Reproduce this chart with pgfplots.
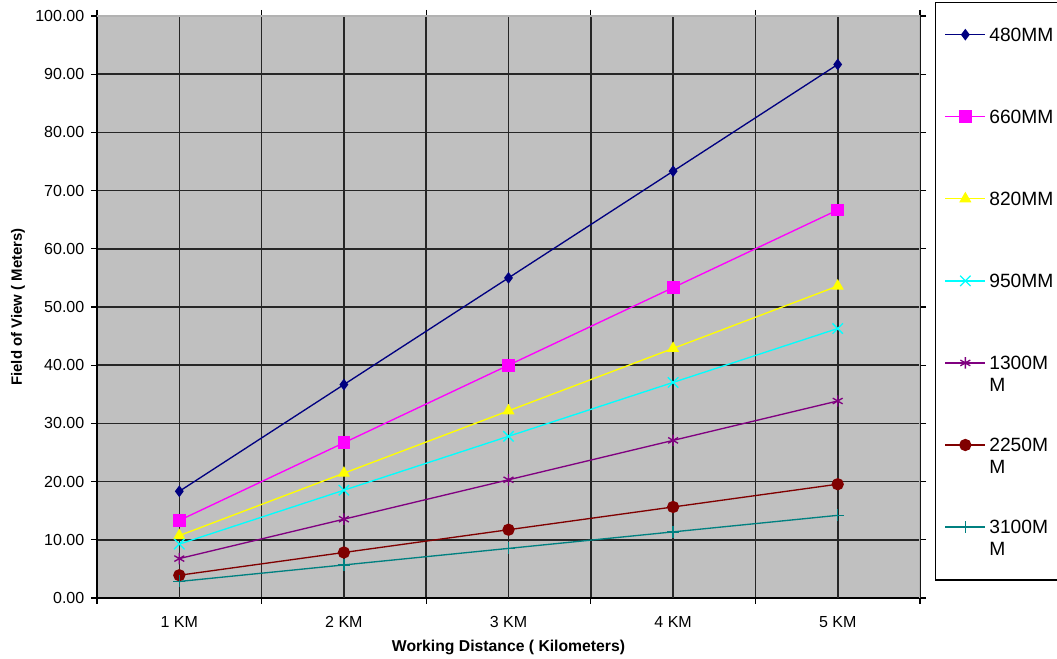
\documentclass[border=0pt]{standalone}
\usepackage{pgfplots}
\pgfplotsset{compat=1.18}
\usepackage{fontspec}
\setmainfont{Liberation Sans}

\definecolor{xnavy}{RGB}{0,0,128}
\definecolor{xmagenta}{RGB}{255,0,255}
\definecolor{xyellow}{RGB}{255,255,0}
\definecolor{xcyan}{RGB}{0,255,255}
\definecolor{xpurple}{RGB}{128,0,128}
\definecolor{xdarkred}{RGB}{128,0,0}
\definecolor{xteal}{RGB}{0,128,128}
\definecolor{plotbg}{RGB}{192,192,192}

\newcommand{\twoline}[2]{\vtop{\hbox{#1}\hbox{#2}}}

\begin{document}
\begin{tikzpicture}
\useasboundingbox (0,0) rectangle (792.75pt,494.25pt);
\begin{axis}[
  at={(72.75pt,45.75pt)}, anchor=south west,
  scale only axis, width=617.25pt, height=436.5pt,
  xmin=0.5, xmax=5.5, ymin=0, ymax=100,
  axis background/.style={fill=plotbg},
  axis line style={black, line width=1.1pt},
  tick align=outside, major tick length=4.5pt,
  tick style={black, line width=1pt},
  xtick={0.5,1.5,...,5.5}, xticklabels={},
  extra x ticks={1,2,3,4,5},
  extra x tick labels={1 KM,2 KM,3 KM,4 KM,5 KM},
  extra x tick style={major tick length=0pt, grid=major},
  xticklabel style={yshift=-10pt},
  ytick={0,10,...,100},
  grid=major,
  major grid style={black!85, line width=1.2pt},
  /pgf/number format/assume math mode=true,
  yticklabel style={/pgf/number format/fixed, /pgf/number format/fixed zerofill, /pgf/number format/precision=2, xshift=-1.5pt},
  ticklabel style={font=\fontsize{12}{14}\selectfont},
  xlabel={Working Distance ( Kilometers)},
  ylabel={Field of View ( Meters)},
  xlabel style={font=\bfseries\fontsize{11.8}{13}\selectfont, at={(axis description cs:0.5,0)}, anchor=center, yshift=-36.75pt},
  ylabel style={font=\bfseries\fontsize{11.2}{13}\selectfont, at={(axis description cs:0,0.5)}, anchor=center, yshift=59.25pt},
  every axis plot/.append style={line width=1pt},
  legend image code/.code={
    \draw[mark repeat=2,mark phase=2] plot coordinates {(0pt,5.2pt)(15pt,5.2pt)(30pt,5.2pt)};
  },
  legend style={at={(1,1)}, anchor=north west, xshift=11.25pt, yshift=10.5pt,
    draw=black, line width=1pt, fill=white, inner xsep=6.75pt, inner ysep=1.1pt,
    font=\fontsize{14.4}{16.5}\selectfont, row sep=0pt, column sep=1.5pt,
    cells={anchor=base west},
    nodes={inner xsep=1pt, inner ysep=0pt, text height=28.1pt, text depth=33.45pt}},
]
\addplot[color=xnavy, mark=diamond*, mark size=3.6pt, mark options={solid, fill=xnavy}]
  coordinates {(1,18.33) (2,36.67) (3,55.00) (4,73.33) (5,91.67)};
\addlegendentry{480MM}
\addplot[color=xmagenta, mark=square*, mark size=4.3pt, mark options={solid, fill=xmagenta}]
  coordinates {(1,13.33) (2,26.67) (3,40.00) (4,53.33) (5,66.67)};
\addlegendentry{660MM}
\addplot[color=xyellow, mark=triangle*, mark size=4.3pt, mark options={solid, fill=xyellow}]
  coordinates {(1,10.72) (2,21.44) (3,32.16) (4,42.88) (5,53.60)};
\addlegendentry{820MM}
\addplot[color=xcyan, mark=x, mark size=5.5pt, mark options={solid}]
  coordinates {(1,9.26) (2,18.52) (3,27.78) (4,37.04) (5,46.30)};
\addlegendentry{950MM}
\addplot[color=xpurple, mark=asterisk, mark size=4.3pt, mark options={solid}]
  coordinates {(1,6.77) (2,13.54) (3,20.31) (4,27.08) (5,33.85)};
\addlegendentry{\twoline{1300M}{M}}
\addplot[color=xdarkred, mark=*, mark size=4.1pt, mark options={solid, fill=xdarkred}]
  coordinates {(1,3.91) (2,7.82) (3,11.73) (4,15.64) (5,19.55)};
\addlegendentry{\twoline{2250M}{M}}
\addplot[color=xteal, mark=+, mark size=4.5pt, mark options={solid}]
  coordinates {(1,2.84) (2,5.68) (3,8.52) (4,11.36) (5,14.20)};
\addlegendentry{\twoline{3100M}{M}}
\draw[gray!60, line width=1.2pt] (rel axis cs:0,1) -- (rel axis cs:1,1) -- (rel axis cs:1,0);
\end{axis}
\end{tikzpicture}
\end{document}
